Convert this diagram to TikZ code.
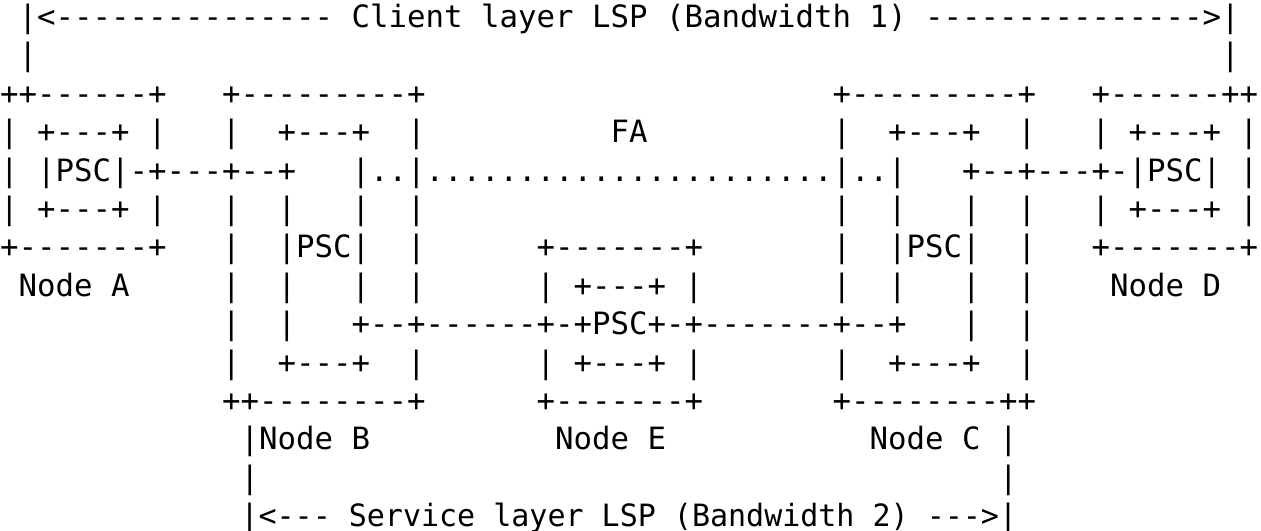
\documentclass[tikz,border=0pt]{standalone}
\usepackage{fontspec}
\setmonofont{DejaVu Sans Mono}

\begin{document}
\begin{tikzpicture}[x=6.02pt, y=12.5pt,
    asc/.style={anchor=base west, inner sep=0pt, outer sep=0pt, font=\ttfamily}]
    \useasboundingbox (0,-0.287) rectangle (68.16,-14.087);
    % client layer LSP
    \node[asc] at (1,-1) (lspC) {|<--------------- Client layer LSP (Bandwidth 1) --------------->|};
    \node[asc] at (1,-2) (lspCa) {|};
    \node[asc] at (66,-2) (lspCd) {|};
    % box tops
    \node[asc] at (0,-3) (topA) {++------+};
    \node[asc] at (12,-3) (topB) {+---------+};
    \node[asc] at (45,-3) (topC) {+---------+};
    \node[asc] at (59,-3) (topD) {+------++};
    % row 4
    \node[asc] at (0,-4) (A4) {| +---+ |};
    \node[asc] at (15,-4) (B4) {+---+};
    \node[asc] at (33,-4) (FA) {FA};
    \node[asc] at (48,-4) (C4) {+---+};
    \node[asc] at (59,-4) (D4) {| +---+ |};
    \foreach \c in {12,22,45,55}
        \node[asc] at (\c,-4) (v4-\c) {|};
    % row 5, the FA
    \node[asc] at (0,-5) (A5) {| |PSC|-+---+--+};
    \node[asc] at (19,-5) (fa5) {|..|......................|..|};
    \node[asc] at (52,-5) (D5) {+--+---+-|PSC| |};
    % row 6
    \node[asc] at (0,-6) (A6) {| +---+ |};
    \node[asc] at (59,-6) (D6) {| +---+ |};
    \foreach \c in {12,15,19,22,45,48,52,55}
        \node[asc] at (\c,-6) (v6-\c) {|};
    % row 7
    \node[asc] at (0,-7) (botA) {+-------+};
    \node[asc] at (15,-7) (pscB) {|PSC|};
    \node[asc] at (29,-7) (topE) {+-------+};
    \node[asc] at (48,-7) (pscC) {|PSC|};
    \node[asc] at (59,-7) (botD) {+-------+};
    \foreach \c in {12,22,45,55}
        \node[asc] at (\c,-7) (v7-\c) {|};
    % row 8
    \node[asc] at (1,-8) (nodeA) {Node A};
    \node[asc] at (29,-8) (E8) {| +---+ |};
    \node[asc] at (60,-8) (nodeD) {Node D};
    \foreach \c in {12,15,19,22,45,48,52,55}
        \node[asc] at (\c,-8) (v8-\c) {|};
    % row 9, the service layer LSP
    \node[asc] at (19,-9) (sl9) {+--+------+-+PSC+-+-------+--+};
    \foreach \c in {12,15,52,55}
        \node[asc] at (\c,-9) (v9-\c) {|};
    % row 10
    \node[asc] at (15,-10) (B10) {+---+};
    \node[asc] at (29,-10) (E10) {| +---+ |};
    \node[asc] at (48,-10) (C10) {+---+};
    \foreach \c in {12,22,45,55}
        \node[asc] at (\c,-10) (v10-\c) {|};
    % box bottoms
    \node[asc] at (12,-11) (botB) {++--------+};
    \node[asc] at (29,-11) (botE) {+-------+};
    \node[asc] at (45,-11) (botC) {+--------++};
    % labels
    \node[asc] at (13,-12) (nodeB) {|Node B};
    \node[asc] at (30,-12) (nodeE) {Node E};
    \node[asc] at (47,-12) (nodeC) {Node C |};
    \node[asc] at (13,-13) (lspSb) {|};
    \node[asc] at (54,-13) (lspSc) {|};
    \node[asc] at (13,-14) (lspS) {\scalebox{0.97619}[1]{|<--- Service layer LSP (Bandwidth 2) --->|}};
\end{tikzpicture}
\end{document}
